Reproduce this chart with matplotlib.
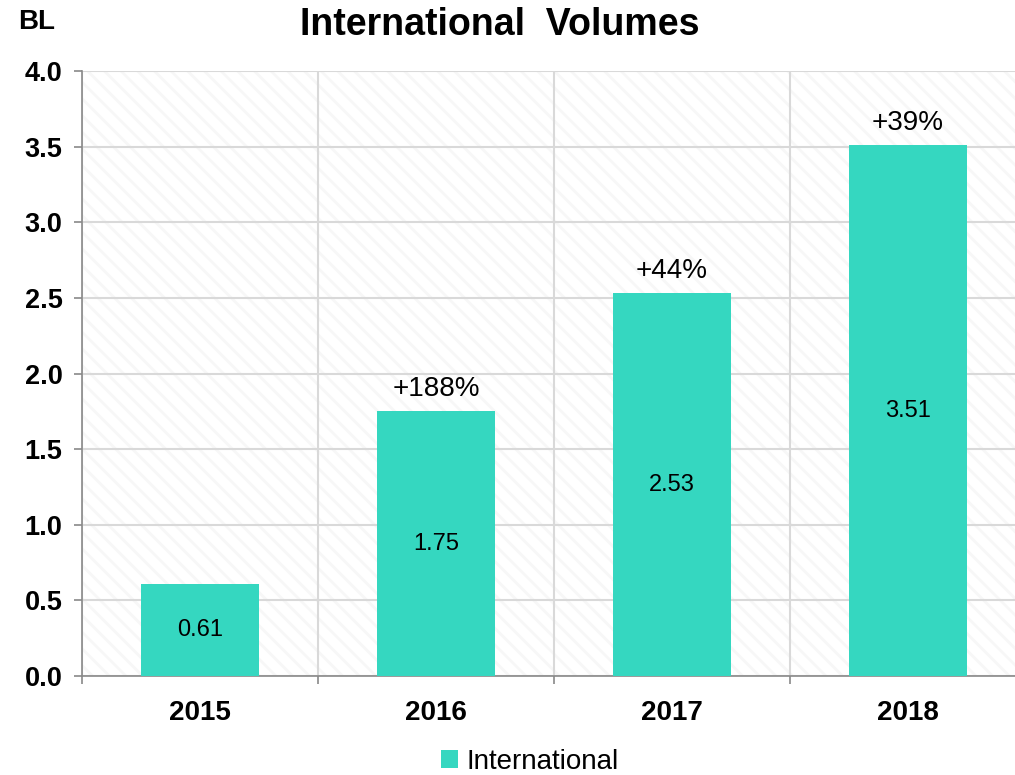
import matplotlib
matplotlib.use("Agg")
import matplotlib.pyplot as plt
import numpy as np

years = ["2015", "2016", "2017", "2018"]
volumes = [0.61, 1.75, 2.53, 3.51]
growth = ["", "+188%", "+44%", "+39%"]
y_ticks = [0.0, 0.5, 1.0, 1.5, 2.0, 2.5, 3.0, 3.5, 4.0]

bar_color = "#35D7C0"
grid_color = "#D9D9D9"
axis_color = "#898989"
hatch_color = "#F7F7F7"

plt.rcParams["font.family"] = ["Liberation Sans", "DejaVu Sans"]
plt.rcParams["hatch.color"] = hatch_color
plt.rcParams["hatch.linewidth"] = 2.0

fig = plt.figure(figsize=(10.15, 7.75), dpi=100)
ax = fig.add_axes([82 / 1015, 1 - 676 / 775, 944 / 1015, 605 / 775])

x = np.arange(len(years))
ax.set_xlim(-0.5, len(years) - 0.5)
ax.set_ylim(0, 4.0)

# diagonally striped plot-area background
ax.patch.set_facecolor("white")
ax.add_patch(plt.Rectangle((0, 0), 1, 1, transform=ax.transAxes,
                           facecolor="none", edgecolor=hatch_color,
                           hatch="\\\\", linewidth=0, zorder=0))

bars = ax.bar(x, volumes, width=0.5, color=bar_color, zorder=3,
              label="International")

for xi, v, g in zip(x, volumes, growth):
    ax.text(xi, v / 2, f"{v:.2f}", ha="center", va="center",
            fontsize=17, color="black", zorder=4)
    if g:
        ax.text(xi, v + 0.06, g, ha="center", va="bottom",
                fontsize=20, color="black", zorder=4)

# ticks and grid
ax.set_yticks(y_ticks)
ax.set_yticklabels([f"{t:.1f}" for t in y_ticks], fontsize=19.5,
                   fontweight="bold")
ax.set_xticks(np.arange(len(years) + 1) - 0.5)
ax.set_xticklabels([])
ax.set_xticks(x, minor=True)
ax.set_xticklabels(years, minor=True, fontsize=20, fontweight="bold")
ax.tick_params(axis="x", which="minor", length=0, pad=17)
ax.tick_params(axis="x", which="major", length=6, color=axis_color,
               width=1.2)
ax.tick_params(axis="y", length=6, color=axis_color, width=1.2, pad=8)

ax.grid(True, axis="both", which="major", color=grid_color, linewidth=1.5,
        zorder=1)
ax.set_axisbelow(True)

for side in ["top", "right"]:
    ax.spines[side].set_visible(False)
for side in ["left", "bottom"]:
    ax.spines[side].set_color(axis_color)
    ax.spines[side].set_linewidth(1.2)

fig.text(500 / 1015, 1 - 25 / 775, "International  Volumes", fontsize=27,
         fontweight="bold", ha="center", va="center")
fig.text(18 / 1015, 1 - 22 / 775, "BL", fontsize=20, fontweight="bold",
         ha="left", va="center")

fig.legend(handles=[bars], labels=["International"],
           loc="center", bbox_to_anchor=(530 / 1015, 1 - 762 / 775),
           frameon=False, fontsize=20, handlelength=0.6, handleheight=0.6,
           handletextpad=0.3)

fig.savefig("out.png", dpi=100)
